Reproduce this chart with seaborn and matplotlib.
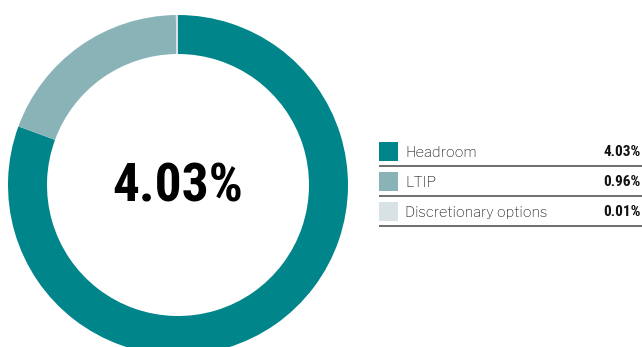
import matplotlib
matplotlib.use("Agg")
import matplotlib.pyplot as plt
import seaborn as sns
from matplotlib.patches import Rectangle

# Share-scheme dilution breakdown
categories = ["Headroom", "LTIP", "Discretionary options"]
values = [4.03, 0.96, 0.01]
value_labels = ["4.03%", "0.96%", "0.01%"]
headline = "4.03%"

sns.set_theme(style="white")
palette = sns.color_palette(["#00868A", "#8AB3B7", "#D8E2E4"])

COND = ["Roboto Condensed", "DejaVu Sans"]
SANS = ["Libre Franklin", "DejaVu Sans"]

W, H = 642, 347
fig = plt.figure(figsize=(W / 100, H / 100), dpi=100)
fig.patch.set_facecolor("white")

# Donut axes: centre (178, 185) px, outer radius 170 px
cx, cy, r = 178, 185, 170
ax = fig.add_axes([(cx - r) / W, (H - cy - r) / H, 2 * r / W, 2 * r / H])
ax.pie(values, colors=palette, startangle=90, counterclock=False,
       radius=1.0, wedgeprops=dict(width=1 - 131 / 170, edgecolor="none"))
ax.set_xlim(-1, 1)
ax.set_ylim(-1, 1)
ax.set_aspect("equal")
ax.axis("off")
ax.text(0, -0.012, headline, ha="center", va="center",
        family=COND, weight="bold", fontsize=38.5, color="black")

# Legend table drawn in pixel coordinates
lg = fig.add_axes([0, 0, 1, 1])
lg.set_xlim(0, W)
lg.set_ylim(H, 0)
lg.axis("off")
row_top = [142, 172, 202]
for i, (name, lab) in enumerate(zip(categories, value_labels)):
    y0 = row_top[i]
    lg.add_patch(Rectangle((379, y0), 19, 19, facecolor=palette[i],
                           edgecolor="none"))
    lg.text(405, y0 + 10, name, ha="left", va="center",
            family=SANS, fontsize=10.5, color="#2a2a2a")
    lg.text(641, y0 + 10, lab, ha="right", va="center",
            family=COND, weight="bold", fontsize=11, color="#111111")
    lg.plot([379, 642], [y0 + 23.5, y0 + 23.5], color="#555555", lw=1.2,
            solid_capstyle="butt")

fig.savefig("out.png", dpi=100, facecolor="white")
